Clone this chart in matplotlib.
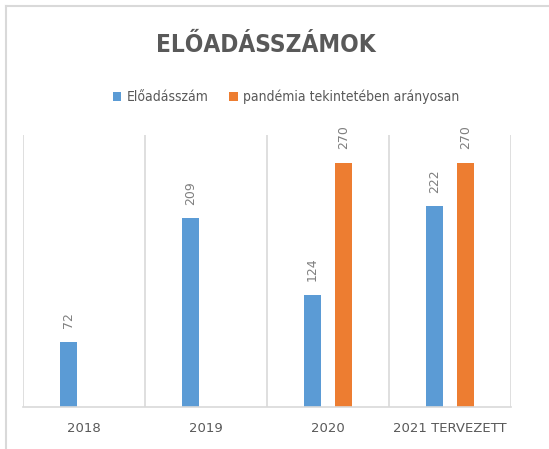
import matplotlib
matplotlib.use('Agg')
import matplotlib.pyplot as plt
import numpy as np
from matplotlib.lines import Line2D

categories = ['2018', '2019', '2020', '2021 TERVEZETT']
eloadasszam = [72, 209, 124, 222]
pandemia = [None, None, 270, 270]
series_names = ['Előadásszám', 'pandémia tekintetében arányosan']

blue = '#5B9BD5'
orange = '#ED7D31'
grey_txt = '#595959'
lbl_c = '#7F7F7F'
grid_c = '#D9D9D9'

plt.rcParams['font.family'] = ['DejaVu Sans']

fig = plt.figure(figsize=(5.49, 4.49), dpi=100)
ax = fig.add_axes([23/549, 1 - 407/449, (511 - 23)/549, (407 - 135)/449])

# outer frame, only top and left edges are visible in the reference
fig.lines.append(Line2D([6/549, 1], [1 - 6/449, 1 - 6/449], transform=fig.transFigure,
                        color=grid_c, lw=1.5))
fig.lines.append(Line2D([6/549, 6/549], [0, 1 - 6/449], transform=fig.transFigure,
                        color=grid_c, lw=1.5))

x = np.arange(len(categories))
w = 0.14
off = 0.13
for i, v in enumerate(eloadasszam):
    ax.bar(x[i] - off, v, w, color=blue, label=series_names[0] if i == 0 else None)
    ax.text(x[i] - off, v + 15, str(v), rotation=90, ha='center', va='bottom',
            color=lbl_c, fontsize=9)
for i, v in enumerate(pandemia):
    if v is None:
        continue
    ax.bar(x[i] + off, v, w, color=orange, label=series_names[1] if i == 2 else None)
    ax.text(x[i] + off, v + 15, str(v), rotation=90, ha='center', va='bottom',
            color=lbl_c, fontsize=9, clip_on=False)

ax.set_xlim(-0.5, len(categories) - 0.5)
ax.set_ylim(0, 301)
for b in np.arange(-0.5, len(categories), 1):
    ax.axvline(b, color=grid_c, lw=1.2, zorder=0)
for s in ['top', 'left', 'right']:
    ax.spines[s].set_visible(False)
ax.spines['bottom'].set_color(grid_c)
ax.spines['bottom'].set_linewidth(1.2)
ax.set_yticks([])
ax.set_xticks(x)
ax.set_xticklabels(categories, color=grey_txt, fontsize=9.5)
ax.tick_params(axis='x', length=0, pad=11)

fig.text(266/549, 1 - 45/449, 'ELŐADÁSSZÁMOK', ha='center', va='center',
         fontsize=17.5, fontweight='bold', fontstretch='condensed', color=grey_txt)

h, l = ax.get_legend_handles_labels()
leg = fig.legend(h, l, loc='center', bbox_to_anchor=(286/549, 1 - 97/449), ncol=2,
                 frameon=False, handlelength=0.6, handleheight=0.6,
                 columnspacing=1.5, handletextpad=0.4,
                 prop={'size': 10, 'stretch': 'condensed'})
for t in leg.get_texts():
    t.set_color(grey_txt)

fig.savefig('out.png', dpi=100, facecolor='white')
